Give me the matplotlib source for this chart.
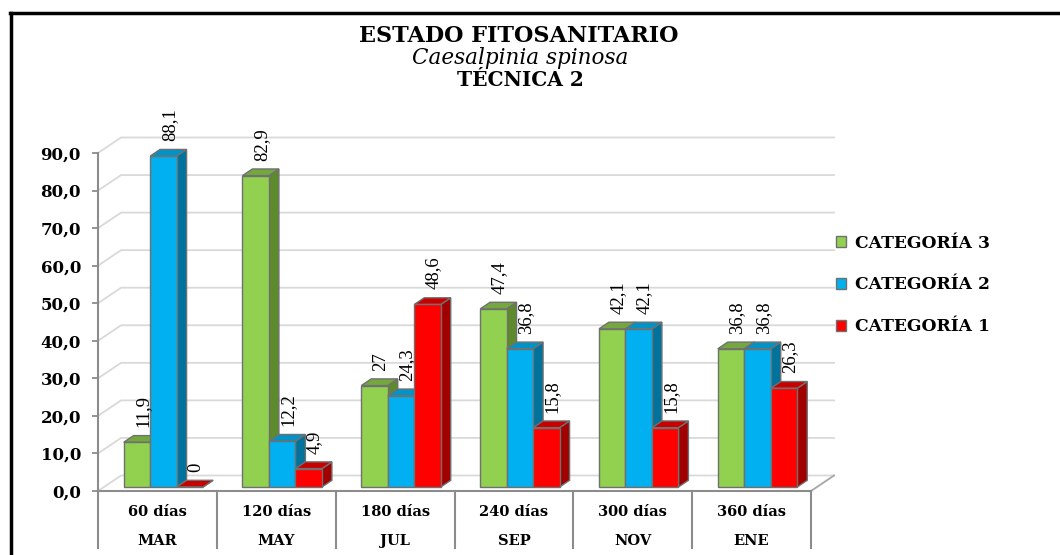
import matplotlib.pyplot as plt
from matplotlib.patches import Polygon, Patch
from matplotlib.lines import Line2D

# data
dias = ['60 días', '120 días', '180 días', '240 días', '300 días', '360 días']
meses = ['MAR', 'MAY', 'JUL', 'SEP', 'NOV', 'ENE']
cat3 = [11.9, 82.9, 27, 47.4, 42.1, 36.8]
cat2 = [88.1, 12.2, 24.3, 36.8, 42.1, 36.8]
cat1 = [0, 4.9, 48.6, 15.8, 15.8, 26.3]
series = [('CATEGORÍA 3', cat3), ('CATEGORÍA 2', cat2), ('CATEGORÍA 1', cat1)]
yticks = [0, 10, 20, 30, 40, 50, 60, 70, 80, 90]

# front, top, side colours for each series
colores = [('#92D050', '#74A83E', '#5E8A2E'),
           ('#00B0F0', '#0093C8', '#00729C'),
           ('#FF0000', '#C80000', '#A00000')]
borde = '#707070'

W, H = 1060, 555
fig = plt.figure(figsize=(W / 100, H / 100), dpi=100)
ax = fig.add_axes([98 / W, 64 / H, 713 / W, 338 / H])
ax.set_xlim(0, 6)
ax.set_ylim(0, 90)

# 3D depth of the floor / walls (data units)
Dx, Dy = 0.194, 4.13
f0, fd = 0.26, 0.43   # bar front offset and bar depth as fraction of D
bw = 0.223

# back wall gridlines and floor
for v in yticks:
    ax.plot([0, Dx, 6 + Dx], [v, v + Dy, v + Dy], color='#d9d9d9', lw=1.3,
            clip_on=False, zorder=1)
ax.plot([6, 6 + Dx], [0, Dy], color='#a6a6a6', lw=1.3, clip_on=False, zorder=1)
ax.plot([0, 6], [0, 0], color='#8c8c8c', lw=1.5, clip_on=False, zorder=2)
ax.plot([0, 0], [0, 90], color='#8c8c8c', lw=1.5, clip_on=False, zorder=2)

# table lines under the axis
for i in range(7):
    ax.plot([i, i], [0, -15.2], color='#8c8c8c', lw=1.5, clip_on=False, zorder=2)

ox, oy = f0 * Dx, f0 * Dy
dx, dy = fd * Dx, fd * Dy
z = 3
for i in range(6):
    for j, (nombre, vals) in enumerate(series):
        v = vals[i]
        fc, tc, sc = colores[j]
        x0 = i + 0.5 - 1.5 * bw + j * bw + ox
        x1 = x0 + bw
        y0 = oy
        y1 = oy + v
        side = Polygon([(x1, y0), (x1 + dx, y0 + dy), (x1 + dx, y1 + dy), (x1, y1)],
                       facecolor=sc, edgecolor=borde, lw=1, clip_on=False, zorder=z)
        top = Polygon([(x0, y1), (x0 + dx, y1 + dy), (x1 + dx, y1 + dy), (x1, y1)],
                      facecolor=tc, edgecolor=borde, lw=1, clip_on=False, zorder=z)
        ax.add_patch(side)
        ax.add_patch(top)
        ax.bar(x0, v, width=bw, bottom=y0, align='edge', color=fc, edgecolor=borde,
               lw=1, clip_on=False, zorder=z + 0.5)
        txt = f'{v:g}'.replace('.', ',')
        ax.text(x0 + bw / 2 + dx * 0.6, y1 + 4.0, txt, rotation=90, ha='center',
                va='bottom', fontsize=13.5, family='Liberation Serif', zorder=6)
        z += 1

# axis styling
for s in ax.spines.values():
    s.set_visible(False)
ax.set_xticks([])
ax.set_yticks(yticks)
ax.set_yticklabels([f'{t:.1f}'.replace('.', ',') for t in yticks],
                   fontsize=12, fontweight='bold', family='DejaVu Serif')
ax.tick_params(axis='y', direction='out', length=4.3, width=1.3, color='#8c8c8c', pad=8)
ax.patch.set_alpha(0)

for i in range(6):
    ax.text(i + 0.5, -6.7, dias[i], ha='center', va='baseline', fontsize=10.5,
            fontweight='bold', family='DejaVu Serif')
    ax.text(i + 0.5, -14.4, meses[i], ha='center', va='baseline', fontsize=10.5,
            fontweight='bold', family='DejaVu Serif')

# title
fig.text(519 / W, 1 - 42 / H, 'ESTADO FITOSANITARIO', ha='center', va='baseline',
         fontsize=16, fontweight='bold', family='DejaVu Serif')
fig.text(520 / W, 1 - 64 / H, 'Caesalpinia spinosa', ha='center', va='baseline',
         fontsize=15.5, style='italic', family='DejaVu Serif')
fig.text(520 / W, 1 - 86 / H, 'TÉCNICA 2', ha='center', va='baseline',
         fontsize=14.5, fontweight='bold', family='DejaVu Serif')

# legend
handles = [Patch(facecolor=colores[j][0], edgecolor=borde, label=series[j][0])
           for j in range(3)]
fig.legend(handles=handles, loc='center left', bbox_to_anchor=(836 / W, 1 - 285 / H),
           frameon=False, borderpad=0, borderaxespad=0, handlelength=0.6,
           handleheight=0.6, handletextpad=0.5, labelspacing=1.46,
           prop={'family': 'DejaVu Serif', 'weight': 'bold', 'size': 12.3})

# outer frame
fig.add_artist(Line2D([10 / W, 1], [1 - 13 / H, 1 - 13 / H], color='black', lw=2.5,
                      transform=fig.transFigure))
fig.add_artist(Line2D([11 / W, 11 / W], [0, 1 - 13 / H], color='black', lw=2.5,
                      transform=fig.transFigure))

fig.savefig('out.png', dpi=100)
